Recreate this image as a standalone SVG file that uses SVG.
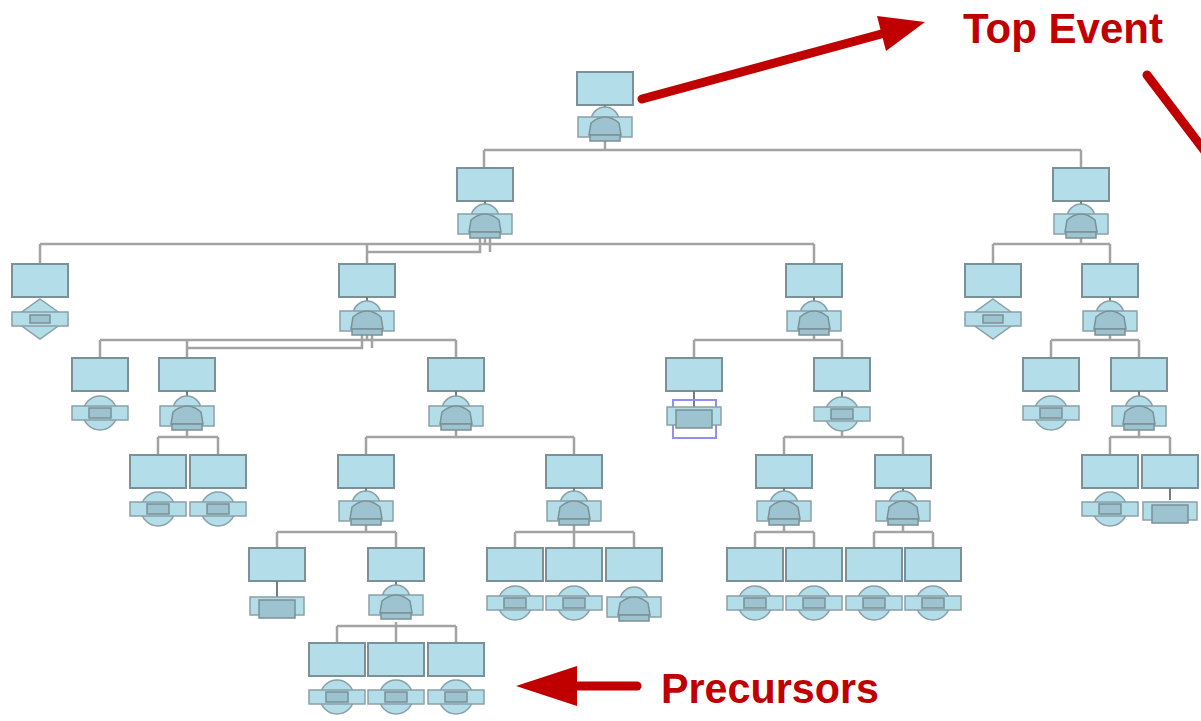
<svg xmlns="http://www.w3.org/2000/svg" xmlns:xlink="http://www.w3.org/1999/xlink" width="1201" height="721" viewBox="0 0 1201 721">
<style>
.box{fill:#b3dde9;stroke:#7b9097;stroke-width:2}
.sym{fill:#b3dde9;stroke:#8aa0a7;stroke-width:1.5}
.dk{fill:#9cc3cf;stroke:#7b9097;stroke-width:1.5}
.stem{stroke:#6e7f85;stroke-width:2}
.conn{fill:none;stroke:#a3a3a3;stroke-width:2.5}
.red{stroke:#c00000;stroke-width:9;stroke-linecap:round;fill:none}
.lbl{font-family:"Liberation Sans",Arial,sans-serif;font-weight:bold;fill:#c00000}
</style>
<defs>
<g id="ev"><rect class="box" x="-28" y="0" width="56" height="33"/></g>
<g id="gate"><circle class="sym" cx="0" cy="-4" r="14"/><rect class="sym" x="-27" y="-8" width="54" height="20"/><path class="dk" d="M-14,-2 Q0,-14 14,-2 L16,10 L-16,10 Z"/><rect class="dk" x="-15" y="10" width="30" height="6"/></g>
<g id="basic"><circle class="sym" cx="0" cy="0" r="17"/><rect class="sym" x="-28" y="-7" width="56" height="14"/><rect class="dk" x="-11" y="-5" width="22" height="10"/></g>
<g id="diamond"><polygon class="sym" points="0,-20 28,0 0,20 -28,0"/><rect class="sym" x="-28" y="-7" width="56" height="14"/><rect class="dk" x="-10" y="-4" width="20" height="8"/></g>
<g id="transfer"><rect class="sym" x="-27" y="-9" width="54" height="18"/><rect class="dk" x="-18" y="-6" width="36" height="18"/></g>
</defs>

<g id="connectors">
<path class="conn" d="M605,140V150 M484,150H1081 M484,150V168 M1081,150V168"/>
<path class="conn" d="M485,237V244 M40,244H814 M40,244V264 M367,244V264 M814,244V264 M480,237V252H367 M490,237V252"/>
<path class="conn" d="M1081,237V244 M993,244H1110 M993,244V264 M1110,244V264"/>
<path class="conn" d="M367,334V340 M100,340H456 M100,340V358 M187,340V358 M456,340V358 M362,334V348H187 M372,334V348"/>
<path class="conn" d="M814,334V340 M694,340H842 M694,340V358 M842,340V358"/>
<path class="conn" d="M1110,334V340 M1051,340H1139 M1051,340V358 M1139,340V358"/>
<path class="conn" d="M187,430V437 M158,437H218 M158,437V455 M218,437V455"/>
<path class="conn" d="M456,430V437 M366,437H574 M366,437V455 M574,437V455"/>
<path class="conn" d="M842,430V437 M784,437H903 M784,437V455 M903,437V455"/>
<path class="conn" d="M1139,430V437 M1110,437H1170 M1110,437V455 M1170,437V455"/>
<path class="conn" d="M366,525V532 M277,532H396 M277,532V548 M396,532V548"/>
<path class="conn" d="M574,525V532 M515,532H634 M515,532V548 M574,532V548 M634,532V548"/>
<path class="conn" d="M784,525V532 M755,532H814 M755,532V548 M814,532V548"/>
<path class="conn" d="M903,525V532 M874,532H933 M874,532V548 M933,532V548"/>
<path class="conn" d="M396,622V626 M337,626H456 M337,626V643 M396,626V643 M456,626V643"/>
</g>

<g id="n-top"><use xlink:href="#ev" x="605" y="72"/><line class="stem" x1="605" y1="105" x2="605" y2="114"/><use xlink:href="#gate" x="605" y="125"/></g>
<g id="n-l1a"><use xlink:href="#ev" x="485" y="168"/><line class="stem" x1="485" y1="201" x2="485" y2="212"/><use xlink:href="#gate" x="485" y="222"/></g>
<g id="n-l1b"><use xlink:href="#ev" x="1081" y="168"/><line class="stem" x1="1081" y1="201" x2="1081" y2="212"/><use xlink:href="#gate" x="1081" y="222"/></g>

<g id="n-40"><use xlink:href="#ev" x="40" y="264"/><use xlink:href="#diamond" x="40" y="319"/></g>
<g id="n-367"><use xlink:href="#ev" x="367" y="264"/><line class="stem" x1="367" y1="297" x2="367" y2="308"/><use xlink:href="#gate" x="367" y="319"/></g>
<g id="n-814"><use xlink:href="#ev" x="814" y="264"/><line class="stem" x1="814" y1="297" x2="814" y2="308"/><use xlink:href="#gate" x="814" y="319"/></g>
<g id="n-993"><use xlink:href="#ev" x="993" y="264"/><use xlink:href="#diamond" x="993" y="319"/></g>
<g id="n-1110"><use xlink:href="#ev" x="1110" y="264"/><line class="stem" x1="1110" y1="297" x2="1110" y2="308"/><use xlink:href="#gate" x="1110" y="319"/></g>

<g id="n-100"><use xlink:href="#ev" x="100" y="358"/><use xlink:href="#basic" x="100" y="413"/></g>
<g id="n-187"><use xlink:href="#ev" x="187" y="358"/><line class="stem" x1="187" y1="391" x2="187" y2="403"/><use xlink:href="#gate" x="187" y="414"/></g>
<g id="n-456"><use xlink:href="#ev" x="456" y="358"/><line class="stem" x1="456" y1="391" x2="456" y2="403"/><use xlink:href="#gate" x="456" y="414"/></g>
<g id="n-694"><use xlink:href="#ev" x="694" y="358"/><line class="stem" x1="694" y1="391" x2="694" y2="410"/><rect x="673" y="400" width="43" height="38" fill="none" stroke="#8f8ff5" stroke-width="2"/><use xlink:href="#transfer" x="694" y="416"/></g>
<g id="n-842"><use xlink:href="#ev" x="842" y="358"/><line class="stem" x1="842" y1="391" x2="842" y2="400"/><use xlink:href="#basic" x="842" y="414"/></g>
<g id="n-1051"><use xlink:href="#ev" x="1051" y="358"/><use xlink:href="#basic" x="1051" y="413"/></g>
<g id="n-1139"><use xlink:href="#ev" x="1139" y="358"/><line class="stem" x1="1139" y1="391" x2="1139" y2="403"/><use xlink:href="#gate" x="1139" y="414"/></g>

<g id="n-158"><use xlink:href="#ev" x="158" y="455"/><use xlink:href="#basic" x="158" y="509"/></g>
<g id="n-218"><use xlink:href="#ev" x="218" y="455"/><use xlink:href="#basic" x="218" y="509"/></g>
<g id="n-366"><use xlink:href="#ev" x="366" y="455"/><line class="stem" x1="366" y1="488" x2="366" y2="498"/><use xlink:href="#gate" x="366" y="509"/></g>
<g id="n-574"><use xlink:href="#ev" x="574" y="455"/><line class="stem" x1="574" y1="488" x2="574" y2="498"/><use xlink:href="#gate" x="574" y="509"/></g>
<g id="n-784"><use xlink:href="#ev" x="784" y="455"/><line class="stem" x1="784" y1="488" x2="784" y2="498"/><use xlink:href="#gate" x="784" y="509"/></g>
<g id="n-903"><use xlink:href="#ev" x="903" y="455"/><line class="stem" x1="903" y1="488" x2="903" y2="498"/><use xlink:href="#gate" x="903" y="509"/></g>
<g id="n-1110b"><use xlink:href="#ev" x="1110" y="455"/><use xlink:href="#basic" x="1110" y="509"/></g>
<g id="n-1170"><use xlink:href="#ev" x="1170" y="455"/><line class="stem" x1="1170" y1="488" x2="1170" y2="500"/><use xlink:href="#transfer" x="1170" y="511"/></g>

<g id="n-277"><use xlink:href="#ev" x="277" y="548"/><line class="stem" x1="277" y1="581" x2="277" y2="600"/><use xlink:href="#transfer" x="277" y="606"/></g>
<g id="n-396"><use xlink:href="#ev" x="396" y="548"/><line class="stem" x1="396" y1="581" x2="396" y2="592"/><use xlink:href="#gate" x="396" y="603"/></g>
<g id="n-515"><use xlink:href="#ev" x="515" y="548"/><use xlink:href="#basic" x="515" y="603"/></g>
<g id="n-574b"><use xlink:href="#ev" x="574" y="548"/><use xlink:href="#basic" x="574" y="603"/></g>
<g id="n-634"><use xlink:href="#ev" x="634" y="548"/><use xlink:href="#gate" x="634" y="605"/></g>
<g id="n-755"><use xlink:href="#ev" x="755" y="548"/><use xlink:href="#basic" x="755" y="603"/></g>
<g id="n-814b"><use xlink:href="#ev" x="814" y="548"/><use xlink:href="#basic" x="814" y="603"/></g>
<g id="n-874"><use xlink:href="#ev" x="874" y="548"/><use xlink:href="#basic" x="874" y="603"/></g>
<g id="n-933"><use xlink:href="#ev" x="933" y="548"/><use xlink:href="#basic" x="933" y="603"/></g>

<g id="n-337"><use xlink:href="#ev" x="337" y="643"/><use xlink:href="#basic" x="337" y="697"/></g>
<g id="n-396b"><use xlink:href="#ev" x="396" y="643"/><use xlink:href="#basic" x="396" y="697"/></g>
<g id="n-456b"><use xlink:href="#ev" x="456" y="643"/><use xlink:href="#basic" x="456" y="697"/></g>

<g id="annotations">
<line class="red" x1="642" y1="99" x2="885" y2="33"/>
<polygon points="925,22 886,51 877,16" fill="#c00000"/>
<line class="red" x1="1147" y1="75" x2="1210" y2="158"/>
<line class="red" x1="637" y1="686" x2="570" y2="686"/>
<polygon points="516,686 577,666 577,706" fill="#c00000"/>
<text class="lbl" x="963" y="43" font-size="42" textLength="200" lengthAdjust="spacingAndGlyphs">Top Event</text>
<text class="lbl" x="661" y="703" font-size="43" textLength="218" lengthAdjust="spacingAndGlyphs">Precursors</text>
</g>
</svg>
